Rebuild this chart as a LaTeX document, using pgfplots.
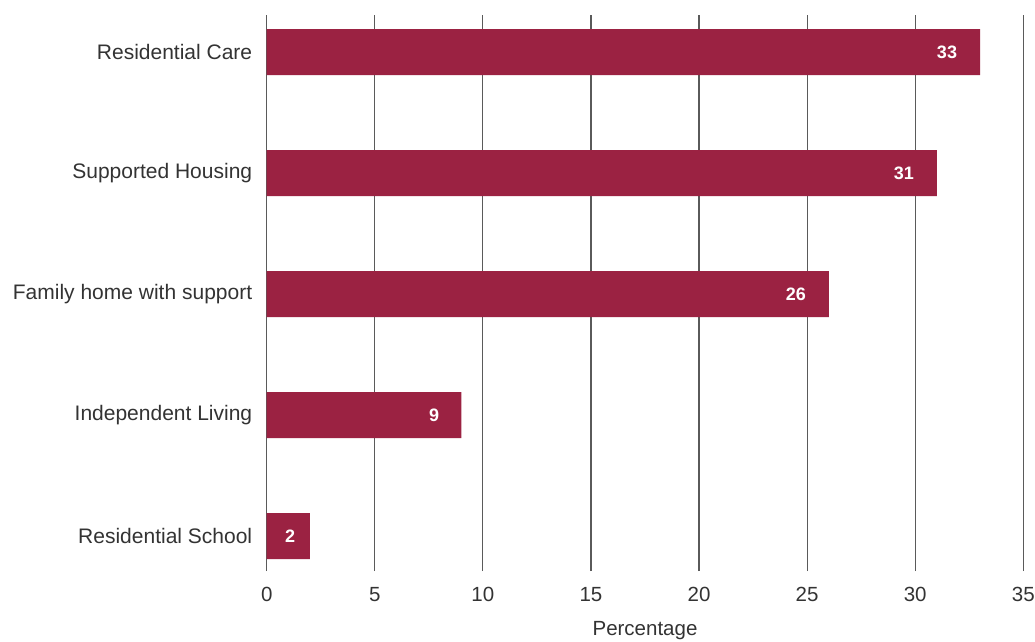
\documentclass[border=0pt]{standalone}
\usepackage{pgfplots}
\pgfplotsset{compat=1.18}
\usepackage{fontspec}
\setmainfont{Liberation Sans}
\definecolor{barred}{HTML}{9B2242}
\definecolor{gridgray}{HTML}{5A5A5A}
\definecolor{txt}{HTML}{333333}
\begin{document}
\begin{tikzpicture}[x=1pt,y=1pt]
\useasboundingbox (0,0) rectangle (1035,641);
\begin{axis}[
  at={(266.7pt,70pt)}, anchor=south west,
  scale only axis, width=756.6pt, height=556pt,
  xmin=0, xmax=35, ymin=-0.289, ymax=4.306,
  xtick={0,5,...,35},
  ytick={0,1,2,3,4},
  yticklabels={Residential School,Independent Living,Family home with support,Supported Housing,Residential Care},
  axis line style={draw=none},
  tick style={draw=none},
  xmajorgrids, major grid style={gridgray, line width=1.2pt},
  ticklabel style={text=txt},
  xticklabel style={font=\fontsize{20.5}{23}\selectfont, yshift=-13pt},
  yticklabel style={font=\fontsize{21}{24}\selectfont, xshift=-11pt},
  /pgf/number format/assume math mode=true,
  xlabel={Percentage},
  xlabel style={font=\fontsize{20.5}{23}\selectfont, text=txt, yshift=-12pt},
  clip=false,
]
\addplot[xbar, bar width=46pt, fill=barred, draw=none] coordinates {
  (2,0) (9,1) (26,2) (31,3) (33,4)
};
\addplot[only marks, mark=none, nodes near coords, point meta=explicit symbolic,
  every node near coord/.style={anchor=center, text=white, font=\bfseries\fontsize{18}{20}\selectfont}]
  table[meta=lab] {
x y lab
1.08 0 2
7.74 1 9
24.48 2 26
29.48 3 31
31.47 4 33
};
\end{axis}
\end{tikzpicture}
\end{document}
